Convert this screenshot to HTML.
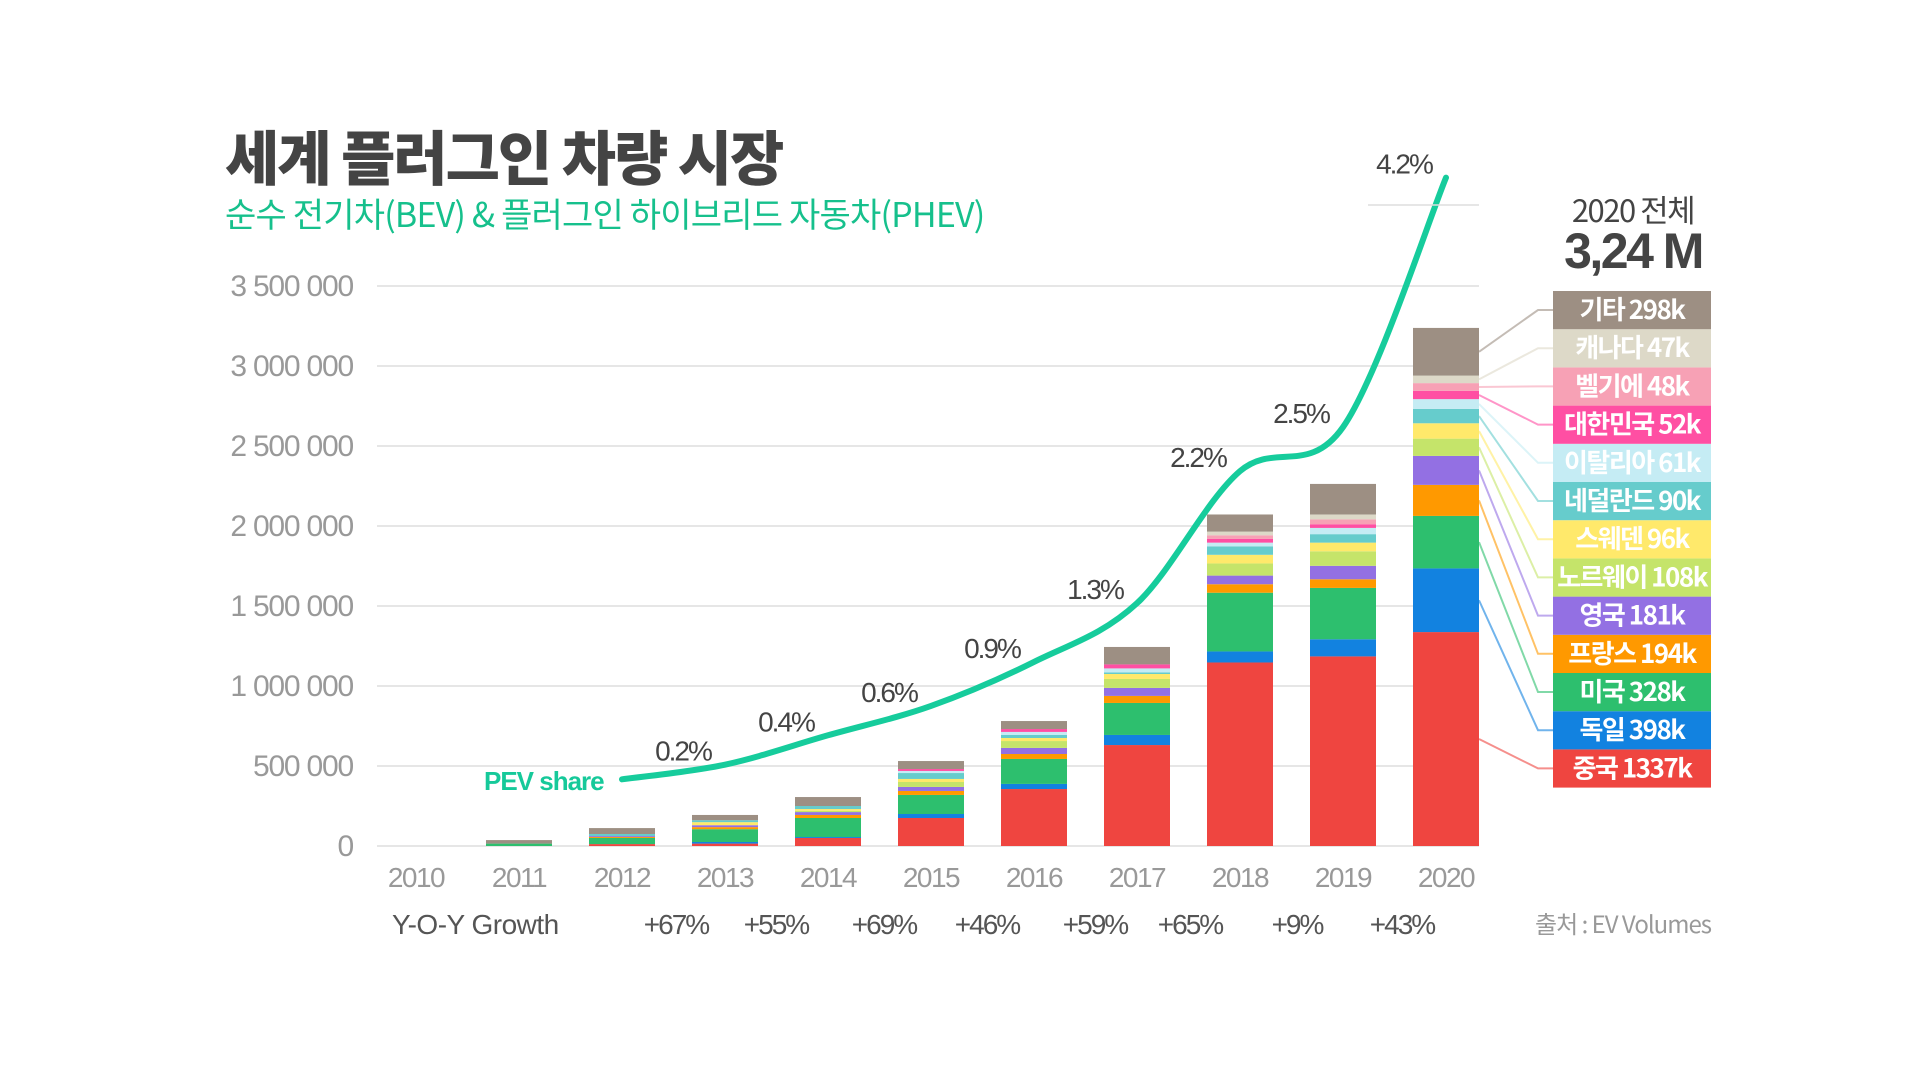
<!DOCTYPE html>
<html><head><meta charset="utf-8">
<style>
body{margin:0;background:#fff;}
svg{display:block;}
text{font-family:"Liberation Sans","Noto Sans CJK KR",sans-serif;}
</style></head>
<body>
<svg id="chart" width="1920" height="1080" viewBox="0 0 1920 1080" xmlns="http://www.w3.org/2000/svg">
<rect width="1920" height="1080" fill="#fff"/>
<text x="225" y="180" font-size="59" font-weight="900" fill="#444" letter-spacing="-2" style="font-family:'Noto Sans CJK KR',sans-serif">세계 플러그인 차량 시장</text>
<text x="225" y="227" font-size="34" fill="#16c08c" letter-spacing="-0.8" style="font-family:'Noto Sans CJK KR',sans-serif">순수 전기차(BEV) &amp; 플러그인 하이브리드 자동차(PHEV)</text>
<text x="1633" y="222" font-size="31" fill="#444" text-anchor="middle" letter-spacing="-1.5" style="font-family:'Noto Sans CJK KR',sans-serif">2020 전체</text>
<text x="1633" y="268" font-size="50" font-weight="900" fill="#444" text-anchor="middle" letter-spacing="-2.5">3,24 M</text>
<g id="grid"></g><g id="bars"></g><g id="leaders"></g><g id="legend"></g><g id="line"></g><g id="labels"></g>
<text x="392" y="934" font-size="28" fill="#555" letter-spacing="-0.5">Y-O-Y Growth</text>
<text x="1711" y="933" font-size="24" fill="#999" text-anchor="end" letter-spacing="-1" style="font-family:'Noto Sans CJK KR',sans-serif">출처 : EV Volumes</text>
<text x="484" y="790" font-size="26" font-weight="bold" fill="#16c99a" letter-spacing="-1">PEV share</text>
</svg>
<script>
const years=['2010','2011','2012','2013','2014','2015','2016','2017','2018','2019','2020'];
const yTicks=[0,500,1000,1500,2000,2500,3000,3500];
const yTickLabels=['0','500 000','1 000 000','1 500 000','2 000 000','2 500 000','3 000 000','3 500 000'];
const china=[0,0,12,15,50,175,356,631,1147,1185,1337];
const germany=[0,0,0,10,6,25,32,63,69,107,398];
const usa=[0,15,38,80,119,119,156,200,367,321,328];
const france=[0,0,6,13,19,25,31,44,53,54,194];
const uk=[0,0,6,12,18,25,38,50,54,84,181];
const norway=[0,0,0,0,8,31,43,56,76,91,108];
const sweden=[0,0,0,19,11,19,19,31,54,54,96];
const netherlands=[0,0,13,12,19,37,19,10,53,53,90];
const italy=[0,0,0,0,0,13,19,25,23,39,61];
const korea=[0,0,0,0,0,12,18,25,23,23,52];
const belgium=[0,0,0,0,0,0,0,0,23,30,48];
const canada=[0,0,0,0,0,0,0,0,23,31,47];
const other=[0,22,37,33,56,50,50,109,107,191,298];
const seriesNames=['중국','독일','미국','프랑스','영국','노르웨이','스웨덴','네덜란드','이탈리아','대한민국','벨기에','캐나다','기타'];
const seriesKeys=['china','germany','usa','france','uk','norway','sweden','netherlands','italy','korea','belgium','canada','other'];
const series=[china,germany,usa,france,uk,norway,sweden,netherlands,italy,korea,belgium,canada,other];
const colors=['#ef4540','#1282e0','#2dbf6e','#ff9900','#9370e3','#c5e46a','#ffe96b','#66cccc','#c5ecf4','#ff4fa3','#f7a1b5','#ddd9c8','#9d8f83'];
const shareYears=['2012','2013','2014','2015','2016','2017','2018','2019','2020'];
const shareValues=[0.1,0.2,0.4,0.6,0.9,1.3,2.2,2.5,4.2];
const shareLabels=['','0.2%','0.4%','0.6%','0.9%','1.3%','2.2%','2.5%','4.2%'];
const growthYears=['2012','2013','2014','2015','2016','2017','2018','2019'];
const growthLabels=['+67%','+55%','+69%','+46%','+59%','+65%','+9%','+43%'];
const growthX=[676,776,884,987,1095,1190,1297,1402];

const NS='http://www.w3.org/2000/svg';
function mk(tag,attrs,parent){const e=document.createElementNS(NS,tag);for(const k in attrs)e.setAttribute(k,attrs[k]);parent.appendChild(e);return e;}
const y=v=>846-v*0.16;
const xc=i=>416+i*103;
const sy=s=>794-s*146.75;
const BW=66;
const grid=document.getElementById('grid');
yTicks.forEach((t,i)=>{
  const l=mk('line',{x1:377,x2:1479,y1:y(t),y2:y(t),stroke:'#dddddd','stroke-width':1.5},grid);
  
  
  const tx=mk('text',{x:353,y:y(t)+10,'font-size':30,fill:'#999','text-anchor':'end','letter-spacing':'-1.2'},grid);
  tx.textContent=yTickLabels[i];
  
  
});
years.forEach((yr,i)=>{
  const tx=mk('text',{x:xc(i),y:887,'font-size':28,fill:'#999','text-anchor':'middle','letter-spacing':'-1.5'},grid);
  tx.textContent=yr;
  
  
});
const bars=document.getElementById('bars');
const segMid=[];
years.forEach((yr,i)=>{
  let acc=0;
  series.forEach((s,j)=>{
    const v=s[i];
    if(v>0){
      const r=mk('rect',{x:xc(i)-BW/2,y:y(acc+v),width:BW,height:y(acc)-y(acc+v),fill:colors[j]},bars);
      
      
    }
    if(i===years.length-1)segMid.push(y(acc+v/2));
    acc+=v;
  });
});
const leaders=document.getElementById('leaders');
const legend=document.getElementById('legend');
const n=series.length;
for(let j=0;j<n;j++){
  const k=n-1-j;
  const top=291+k*38.2;
  const mid=top+19;
  const p=mk('polyline',{points:`1479,${segMid[j]} 1538,${mid} 1553,${mid}`,fill:'none',stroke:colors[j],'stroke-width':2,opacity:0.6},leaders);
  
  
  const r=mk('rect',{x:1553,y:top,width:158,height:38.2,fill:colors[j]},legend);
  
  
  const last=series[j][series[j].length-1];
  const t=mk('text',{x:1632,y:mid+9,'font-size':26,'font-weight':'bold',fill:'#fff','text-anchor':'middle','letter-spacing':'-1.5',style:"font-family:'Noto Sans CJK KR',sans-serif"},legend);
  t.textContent=seriesNames[j]+' '+last+'k';
  
  
}
const pts=shareValues.map((s,i)=>[xc(years.indexOf(shareYears[i])),sy(s)]);
let d=`M${pts[0][0]},${pts[0][1]}`;
for(let i=0;i<pts.length-1;i++){
  const p0=pts[Math.max(0,i-1)],p1=pts[i],p2=pts[i+1],p3=pts[Math.min(pts.length-1,i+2)];
  const c1=[p1[0]+(p2[0]-p0[0])/6,p1[1]+(p2[1]-p0[1])/6];
  const c2=[p2[0]-(p3[0]-p1[0])/6,p2[1]-(p3[1]-p1[1])/6];
  d+=` C${c1[0]},${c1[1]} ${c2[0]},${c2[1]} ${p2[0]},${p2[1]}`;
}
const line=document.getElementById('line');
const path=mk('path',{d:d,fill:'none',stroke:'#16cc9c','stroke-width':6,'stroke-linecap':'round'},line);


const hl=mk('line',{x1:1368,x2:1479,y1:205,y2:205,stroke:'#dddddd','stroke-width':1.5},line);


const labels=document.getElementById('labels');
shareLabels.forEach((lab,i)=>{
  if(!lab)return;
  const t=mk('text',{x:pts[i][0]-42,y:pts[i][1]-4,'font-size':28,fill:'#444','text-anchor':'middle','letter-spacing':'-2'},labels);
  t.textContent=lab;
  
  
});
growthLabels.forEach((g,i)=>{
  const t=mk('text',{x:growthX[i],y:934,'font-size':28,fill:'#555','text-anchor':'middle','letter-spacing':'-2'},labels);
  t.textContent=g;
  
  
});
</script>
</body></html>
